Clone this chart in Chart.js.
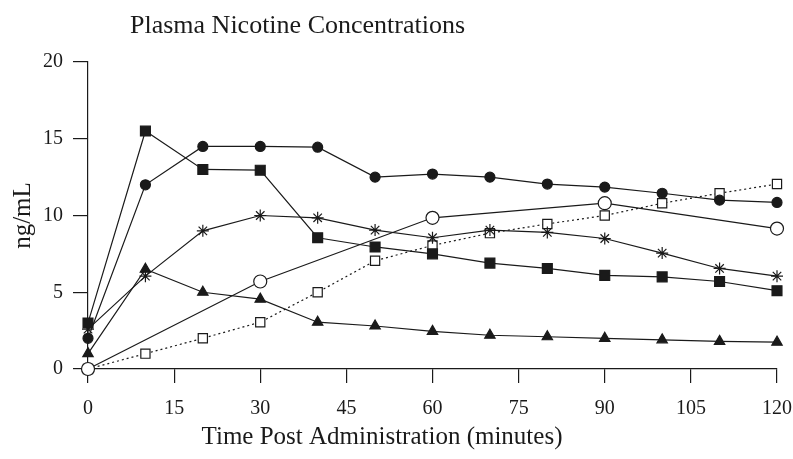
<!DOCTYPE html>
<html>
<head>
<meta charset="utf-8">
<script src="https://cdn.jsdelivr.net/npm/chart.js@4.4.0/dist/chart.umd.min.js"></script>
<style>
  html, body { margin: 0; padding: 0; background: #fff; }
  #wrap { width: 793px; height: 459px; }
</style>
</head>
<body>
<div id="wrap"><canvas id="graph_nicotine" width="793" height="459"></canvas></div>
<script>
/*------------------------------*/
/*     Plasma nicotine data     */
/*------------------------------*/
var times = [0, 10, 20, 30, 40, 50, 60, 70, 80, 90, 100, 110, 120]
var timesOpenCircle = [0, 30, 60, 90, 120]

var filledCircle = [2, 12, 14.5, 14.5, 14.45, 12.5, 12.7, 12.5, 12.05, 11.85, 11.45, 11.0, 10.85]
var filledSquare = [3, 15.5, 13, 12.95, 8.55, 7.95, 7.5, 6.9, 6.55, 6.1, 6.0, 5.7, 5.1]
var asterisk = [2.6, 6.05, 9.0, 10.0, 9.85, 9.05, 8.55, 9.05, 8.9, 8.5, 7.55, 6.55, 6.05]
var triangle = [1.0, 6.5, 5.0, 4.55, 3.05, 2.8, 2.45, 2.2, 2.1, 2.0, 1.9, 1.8, 1.75]
var openCircle = [0, 5.7, 9.85, 10.8, 9.15]
var openSquare = [0, 1.0, 2.0, 3.05, 5.0, 7.05, 8.05, 8.85, 9.45, 10.0, 10.8, 11.45, 12.05]

var xTicks = [0, 15, 30, 45, 60, 75, 90, 105, 120]
var yTicks = [0, 5, 10, 15, 20]

var serif = '"Liberation Serif", "DejaVu Serif", serif'
var ink = '#1a1a1a'

function pairs(xs, ys) {
    return ys.map(function (v, i) { return { x: xs[i], y: v } })
}

function serie(xs, ys, style, radius, fill, dash) {
    return {
        data: pairs(xs, ys),
        borderColor: ink,
        borderWidth: 1.2,
        borderDash: dash || [],
        pointStyle: style,
        pointRadius: radius,
        pointHoverRadius: radius,
        pointBackgroundColor: fill,
        pointBorderColor: ink,
        pointBorderWidth: 1.2,
        fill: false,
        tension: 0,
        clip: false
    }
}

// titre et legende de l'axe x decales vers la gauche, comme sur la figure
var plotTexts = {
    id: 'plotTexts',
    afterDraw: function (chart) {
        var c = chart.ctx
        var a = chart.chartArea
        c.save()
        c.fillStyle = ink
        c.font = '26px ' + serif
        c.textBaseline = 'alphabetic'
        c.textAlign = 'left'
        c.fillText('Plasma Nicotine Concentrations', a.left + 42, 33)
        c.font = '25px ' + serif
        c.textAlign = 'center'
        c.textBaseline = 'middle'
        c.fillText('Time Post Administration (minutes)', a.left + 294, 437)
        c.restore()
    }
}

var ctx_nic = document.getElementById('graph_nicotine').getContext('2d')

var data_nic = {
    datasets: [
        serie(timesOpenCircle, openCircle, 'circle', 6.5, '#ffffff'),
        serie(times, filledCircle, 'circle', 5, ink),
        serie(times, filledSquare, 'rect', 7, ink),
        serie(times, asterisk, 'star', 6, ink),
        serie(times, triangle, 'triangle', 6, ink),
        serie(times, openSquare, 'rect', 6.5, '#ffffff', [2, 3])
    ]
}

var config_nic = {
    type: 'line',
    data: data_nic,
    plugins: [plotTexts],
    options: {
        responsive: false,
        animation: false,
        devicePixelRatio: 1,
        layout: { padding: { top: 62, right: 0, left: 0, bottom: 0 } },
        plugins: {
            legend: { display: false },
            tooltip: { enabled: false },
            title: { display: false }
        },
        scales: {
            x: {
                type: 'linear',
                min: 0,
                max: 120,
                afterFit: function (s) { s.height = 90; s.paddingRight = 16 },
                afterBuildTicks: function (s) { s.ticks = xTicks.map(function (v) { return { value: v } }) },
                ticks: { color: ink, font: { family: serif, size: 20 }, padding: 14, maxRotation: 0 },
                grid: { drawOnChartArea: false, drawTicks: true, tickLength: 14, color: ink, lineWidth: 1.2 },
                border: { display: true, color: ink, width: 1.2 },
                title: { display: false }
            },
            y: {
                min: 0,
                max: 20,
                afterFit: function (s) { s.width = 88 },
                afterBuildTicks: function (s) { s.ticks = yTicks.map(function (v) { return { value: v } }) },
                ticks: { color: ink, font: { family: serif, size: 20 }, padding: 10 },
                grid: { drawOnChartArea: false, drawTicks: true, tickLength: 15, color: ink, lineWidth: 1.2 },
                border: { display: true, color: ink, width: 1.2 },
                title: {
                    display: true,
                    text: 'ng/mL',
                    color: ink,
                    font: { family: serif, size: 25 },
                    padding: { top: 8, bottom: 0 }
                }
            }
        }
    }
}
var graph_nic = new Chart(ctx_nic, config_nic)
</script>
</body>
</html>
